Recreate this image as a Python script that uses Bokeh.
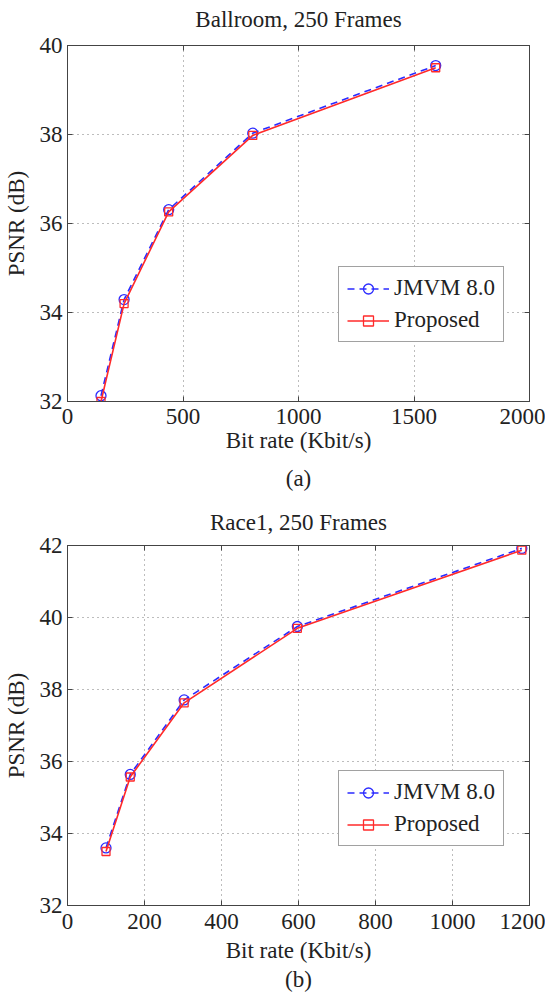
from bokeh.plotting import figure
from bokeh.layouts import column
from bokeh.models import FixedTicker, LinearAxis, Legend
from bokeh.embed import file_html
from bokeh.resources import INLINE

# ---- data ----
series_names = ["JMVM 8.0", "Proposed"]

titles = ["Ballroom, 250 Frames", "Race1, 250 Frames"]
captions = ["(a)", "(b)"]

rate_a = [145, 245, 438, 802, 1594]
psnr_a_jmvm = [32.13, 34.29, 36.31, 38.03, 39.55]
psnr_a_prop = [32.00, 34.20, 36.26, 37.98, 39.50]

rate_b = [100, 163, 303, 597, 1180]
psnr_b_jmvm = [33.60, 35.64, 37.71, 39.75, 41.92]
psnr_b_prop = [33.50, 35.57, 37.63, 39.70, 41.87]

xticks_a = [0, 500, 1000, 1500, 2000]
yticks_a = [32, 34, 36, 38, 40]
xticks_b = [0, 200, 400, 600, 800, 1000, 1200]
yticks_b = [32, 34, 36, 38, 40, 42]

FONT = "Liberation Serif"
FS = "23px"
BLUE = "#2b2bff"
RED = "#ff2a2a"
INK = "#222222"
EDGE = "#444444"


def style_label(ax):
    ax.axis_label_text_font = FONT
    ax.axis_label_text_font_size = FS
    ax.axis_label_text_font_style = "normal"
    ax.axis_label_text_color = INK


def make_plot(title, caption, x, y1, y2, xticks, yticks, height,
              top, bottom, title_standoff, tick_standoff, label_standoff,
              cap_standoff, legend_loc):
    p = figure(width=545, height=height, output_backend="svg",
               toolbar_location=None,
               x_range=(xticks[0], xticks[-1]), y_range=(yticks[0], yticks[-1]),
               min_border_left=66, min_border_right=16,
               min_border_top=top, min_border_bottom=bottom)

    for ax in (p.xaxis[0], p.yaxis[0]):
        ax.major_label_text_font = FONT
        ax.major_label_text_font_size = FS
        ax.major_label_text_color = INK
        style_label(ax)
        ax.major_tick_in = 5
        ax.major_tick_out = 0
        ax.minor_tick_line_color = None
        ax.axis_line_color = EDGE
        ax.major_tick_line_color = EDGE
    p.xaxis[0].ticker = FixedTicker(ticks=xticks)
    p.yaxis[0].ticker = FixedTicker(ticks=yticks)
    p.xaxis[0].axis_label = "Bit rate (Kbit/s)"
    p.yaxis[0].axis_label = "PSNR (dB)"
    p.xaxis[0].major_label_standoff = tick_standoff
    p.yaxis[0].major_label_standoff = 5
    p.xaxis[0].axis_label_standoff = label_standoff
    p.yaxis[0].axis_label_standoff = 8

    # mirrored tick marks on right and top (no tick labels); the top one
    # carries the chart title as its axis label
    for loc, tk in (("right", yticks), ("above", xticks)):
        ax = LinearAxis(ticker=FixedTicker(ticks=tk), major_tick_in=5,
                        major_tick_out=0, minor_tick_line_color=None,
                        major_label_text_font_size="1px",
                        major_label_text_color=None,
                        major_label_standoff=0,
                        axis_line_color=EDGE,
                        major_tick_line_color=EDGE)
        if loc == "above":
            ax.axis_label = title
            ax.axis_label_standoff = title_standoff
            style_label(ax)
        p.add_layout(ax, loc)

    # caption "(a)" / "(b)" below the x axis
    cap = LinearAxis(ticker=FixedTicker(ticks=[]), axis_line_color=None,
                     major_tick_line_color=None, minor_tick_line_color=None,
                     major_label_text_color=None,
                     major_label_text_font_size="1px", major_label_standoff=0,
                     major_tick_in=0, major_tick_out=0,
                     axis_label=caption, axis_label_standoff=cap_standoff)
    style_label(cap)
    p.add_layout(cap, "below")

    p.outline_line_color = EDGE
    p.xgrid.ticker = FixedTicker(ticks=xticks)
    p.ygrid.ticker = FixedTicker(ticks=yticks)
    for g in (p.xgrid[0], p.ygrid[0]):
        g.grid_line_color = "#7a7a7a"
        g.grid_line_dash = "1 4"
        g.grid_line_width = 1

    l1 = p.line(x, y1, line_color=BLUE, line_width=1.6, line_dash="7 5")
    s1 = p.scatter(x, y1, marker="circle", size=10, fill_color=None,
                   line_color=BLUE, line_width=1.3)
    l2 = p.line(x, y2, line_color=RED, line_width=1.6)
    s2 = p.scatter(x, y2, marker="square", size=8, fill_color=None,
                   line_color=RED, line_width=1.3)

    leg = Legend(items=[(series_names[0], [l1, s1]), (series_names[1], [l2, s2])],
                 location=legend_loc,
                 label_text_font=FONT, label_text_font_size=FS,
                 label_text_color=INK,
                 glyph_width=42, glyph_height=25, label_height=25,
                 label_standoff=5, spacing=6, padding=8, margin=0,
                 border_line_color=EDGE, border_line_width=1.2,
                 background_fill_alpha=1.0)
    p.add_layout(leg, "center")
    return p


p1 = make_plot(titles[0], captions[0], rate_a, psnr_a_jmvm, psnr_a_prop,
               xticks_a, yticks_a, height=497, top=45, bottom=96,
               title_standoff=14, tick_standoff=7, label_standoff=1,
               cap_standoff=10, legend_loc=(271, 59))
p2 = make_plot(titles[1], captions[1], rate_b, psnr_b_jmvm, psnr_b_prop,
               xticks_b, yticks_b, height=497, top=48, bottom=89,
               title_standoff=11, tick_standoff=8, label_standoff=6,
               cap_standoff=1, legend_loc=(271, 59))

layout = column(p1, p2, spacing=0)
open("out.html", "w").write(file_html(layout, INLINE))
